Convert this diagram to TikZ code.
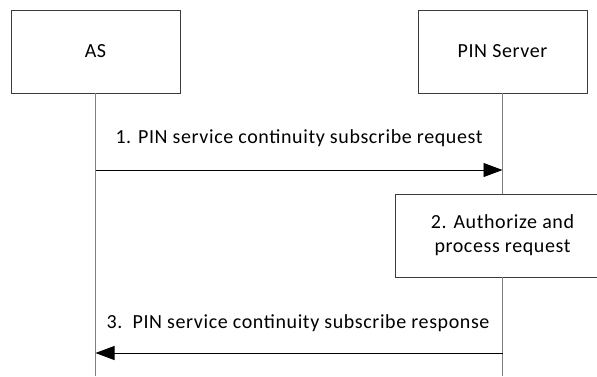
\documentclass[tikz,border=0pt]{standalone}
\usepackage{fontspec}
\setmainfont[LetterSpace=3]{Carlito}
\usetikzlibrary{arrows.meta, positioning, calc}
\definecolor{cline}{HTML}{3C3C3C}
\definecolor{cgrey}{HTML}{808080}
\tikzset{
  every picture/.style={line width=0.9pt},
  entity/.style={draw=cline, minimum width=169pt, minimum height=83pt, inner sep=0pt, font=\fontsize{20}{23}\selectfont},
  procbox/.style={draw=cline, fill=white, minimum width=214pt, minimum height=83pt, inner sep=0pt, align=center, font=\fontsize{20}{24}\selectfont},
  lifeline/.style={draw=cgrey},
  msg/.style={-{Triangle[length=19pt, width=14pt]}, draw=black},
  msglabel/.style={font=\fontsize{20}{23}\selectfont, inner sep=0pt},
}

\begin{document}
\begin{tikzpicture}[x=1pt, y=-1pt]
  \useasboundingbox (0,0) rectangle (597,376);
  % entities
  \node[entity] (as) at (95.5,51.5) {AS};
  \node[entity] (pin) at (502.5,51.5) {PIN Server};
  \node[procbox] (auth) at (502.5,235.5) {2. Authorize and\\process request};
  % lifelines
  \coordinate (asend) at (as.south |- 0,376);
  \coordinate (pinend) at (pin.south |- 0,376);
  \draw[lifeline] (as.south) -- (asend);
  \draw[lifeline] (pin.south) -- (auth.north);
  \draw[lifeline] (auth.south) -- (pinend);
  % messages
  \coordinate (req1a) at (as.south |- 0,170);
  \coordinate (req1b) at (pin.south |- 0,170);
  \coordinate (rsp3a) at (pin.south |- 0,353);
  \coordinate (rsp3b) at (as.south |- 0,353);
  \draw[msg] (req1a) -- (req1b);
  \draw[msg] (rsp3a) -- (rsp3b);
  \node[msglabel] (req1) at (299,138) {1. PIN service continuity subscribe request};
  \node[msglabel] (rsp3) at (298,323) {3.\ \ PIN service continuity subscribe response};
\end{tikzpicture}
\end{document}
